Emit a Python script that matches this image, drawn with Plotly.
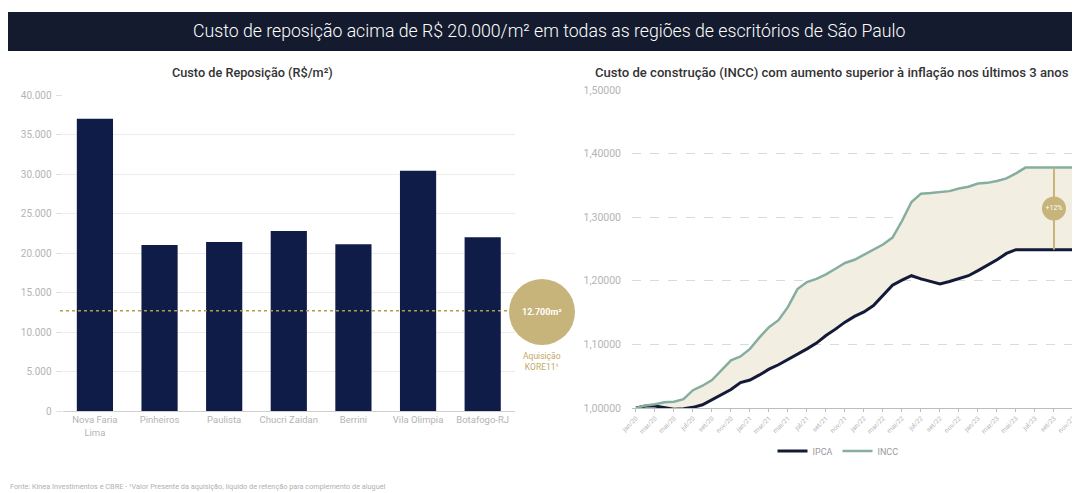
import plotly.graph_objects as go

# ---------------- data ----------------
regions = ["Nova Faria<br>Lima", "Pinheiros", "Paulista", "Chucri Zaidan", "Berrini", "Vila Olimpia", "Botafogo-RJ"]
replacement_cost = [37000, 21000, 21400, 22800, 21100, 30400, 22000]
kore_cost = 12700
left_ticks = [0, 5000, 10000, 15000, 20000, 25000, 30000, 35000, 40000]

month_names = ["jan", "fev", "mar", "abr", "mai", "jun", "jul", "ago", "set", "out", "nov", "dez"]
years = ["20", "21", "22", "23"]
months = [f"{m}/{y}" for y in years for m in month_names]

incc = [1.000, 1.004, 1.006, 1.009, 1.010, 1.014, 1.028, 1.035, 1.044, 1.059, 1.075, 1.081,
        1.093, 1.111, 1.127, 1.138, 1.159, 1.187, 1.198, 1.203, 1.210, 1.219, 1.228, 1.233,
        1.241, 1.248, 1.257, 1.268, 1.294, 1.324, 1.337, 1.338, 1.339, 1.341, 1.345, 1.348,
        1.353, 1.354, 1.357, 1.361, 1.369, 1.378, 1.378, 1.378, 1.378, 1.378, 1.378, 1.378]
ipca = [1.000, 1.003, 1.003, 1.001, 0.998, 0.999, 1.001, 1.005, 1.013, 1.020, 1.029, 1.040,
        1.044, 1.052, 1.061, 1.068, 1.076, 1.084, 1.093, 1.102, 1.114, 1.124, 1.135, 1.144,
        1.151, 1.161, 1.177, 1.193, 1.201, 1.208, 1.203, 1.199, 1.195, 1.199, 1.204, 1.208,
        1.216, 1.224, 1.233, 1.243, 1.249, 1.249, 1.249, 1.249, 1.249, 1.249, 1.249, 1.249]
right_ticks = [1.0, 1.1, 1.2, 1.3, 1.4, 1.5]
gap_index = 44
gap_label = "+12%"

# ---------------- style ----------------
OFF = 8                      # page body margin
W, H = 1080 - OFF, 493 - OFF
NAVY = "#0f1c48"
IPCA_C = "#131a38"
INCC_C = "#86ae9f"
FILL_C = "#f3eee2"
GOLD = "#c6b47a"
GOLD_TXT = "#bfa968"
TICK_C = "#b4b4b4"
FONT = "Roboto"


def px(x):
    return (x - OFF) / W


def py(y):
    return (H - (y - OFF)) / H


fig = go.Figure()

# left bars
fig.add_trace(go.Bar(x=regions, y=replacement_cost, marker=dict(color=NAVY, line=dict(width=0)),
                     xaxis="x", yaxis="y", showlegend=False, hoverinfo="x+y"))

# right: fill between
fig.add_trace(go.Scatter(x=months, y=ipca, mode="lines", line=dict(width=0, color=IPCA_C),
                         xaxis="x2", yaxis="y2", showlegend=False, hoverinfo="skip"))
fig.add_trace(go.Scatter(x=months, y=incc, mode="lines", line=dict(width=0, color=INCC_C),
                         fill="tonexty", fillcolor=FILL_C,
                         xaxis="x2", yaxis="y2", showlegend=False, hoverinfo="skip"))
# lines
fig.add_trace(go.Scatter(x=months, y=ipca, mode="lines", name="IPCA",
                         line=dict(width=3, color=IPCA_C), xaxis="x2", yaxis="y2"))
fig.add_trace(go.Scatter(x=months, y=incc, mode="lines", name="INCC",
                         line=dict(width=2.5, color=INCC_C), xaxis="x2", yaxis="y2"))

# gap marker
fig.add_trace(go.Scatter(x=[months[gap_index], months[gap_index]], y=[ipca[gap_index], incc[gap_index]],
                         mode="lines", line=dict(color=GOLD, width=2), xaxis="x2", yaxis="y2",
                         showlegend=False, hoverinfo="skip"))
fig.add_trace(go.Scatter(x=[months[gap_index]], y=[(ipca[gap_index] + incc[gap_index]) / 2],
                         mode="markers+text", text=[gap_label],
                         textfont=dict(color="white", size=7, family=FONT),
                         marker=dict(size=24, color=GOLD, line=dict(width=0)),
                         xaxis="x2", yaxis="y2", showlegend=False, hoverinfo="skip"))

shapes = []
# title bar
shapes.append(dict(type="rect", xref="paper", yref="paper", x0=px(8), x1=1.0, y0=py(51), y1=py(12),
                   fillcolor="#141b2e", line=dict(width=0), layer="below"))
# kore dotted line
shapes.append(dict(type="line", xref="paper", yref="y", x0=px(60), x1=px(512), y0=kore_cost, y1=kore_cost,
                   line=dict(color="#ab9f4c", width=1.5, dash="dot"), layer="above"))
# kore circle
cx, cy, r = 542, 312, 33
shapes.append(dict(type="circle", xref="paper", yref="paper", x0=px(cx - r), x1=px(cx + r),
                   y0=py(cy + r), y1=py(cy - r), fillcolor=GOLD, line=dict(width=0), layer="above"))

annotations = [
    dict(text="Custo de reposição acima de R$ 20.000/m² em todas as regiões de escritórios de São Paulo",
         x=px(549), y=py(31), xref="paper", yref="paper", showarrow=False,
         font=dict(family=FONT, size=17.7, color="white", weight=300), xanchor="center", yanchor="middle"),
    dict(text="Custo de Reposição (R$/m²)", x=px(252), y=py(73), xref="paper", yref="paper", showarrow=False,
         font=dict(family=FONT, size=12.7, color="#333333", weight=500), xanchor="center", yanchor="middle"),
    dict(text="Custo de construção (INCC) com aumento superior à inflação nos últimos 3 anos",
         x=px(593), y=py(73), xref="paper", yref="paper", showarrow=False,
         font=dict(family=FONT, size=13.1, color="#333333", weight=500), xanchor="left", yanchor="middle"),
    dict(text="<b>12.700m²</b>", x=px(cx), y=py(cy), xref="paper", yref="paper", showarrow=False,
         font=dict(family=FONT, size=9, color="white"), xanchor="center", yanchor="middle"),
    dict(text="Aquisição<br>KORE11¹", x=px(542), y=py(361), xref="paper", yref="paper", showarrow=False,
         font=dict(family=FONT, size=8.5, color=GOLD_TXT), xanchor="center", yanchor="middle"),
    dict(text="Fonte: Kinea Investimentos e CBRE - ¹Valor Presente da aquisição, líquido de retenção para complemento de aluguel",
         x=px(8), y=py(486), xref="paper", yref="paper", showarrow=False,
         font=dict(family=FONT, size=7.3, color="#b0b0b0"), xanchor="left", yanchor="middle"),
]

fig.update_layout(
    width=W, height=H,
    margin=dict(l=0, r=0, t=0, b=0, autoexpand=False),
    paper_bgcolor="white", plot_bgcolor="white",
    separators=",.",
    bargap=0.44,
    font=dict(family=FONT, color=TICK_C),
    shapes=shapes,
    annotations=annotations,
    xaxis=dict(domain=[px(62.6), px(515)], range=[-0.5, 6.5], type="category", automargin=False,
               showline=True, linecolor="#cfcfcf", linewidth=1, ticks="",
               tickfont=dict(size=9.5, color=TICK_C, family=FONT), showgrid=False, fixedrange=True),
    yaxis=dict(domain=[py(411), py(95)], range=[0, 40000], tickvals=left_ticks, tickformat=",d",
               automargin=False,
               showgrid=True, gridcolor="#ececec", gridwidth=1, zeroline=False,
               ticks="outside", ticklen=6, tickcolor="#e0e0e0",
               tickfont=dict(size=10, color=TICK_C, family=FONT), ticklabelstandoff=2),
    xaxis2=dict(domain=[px(632), 1.0], range=[-0.42, 46.74], type="category", automargin=False,
                tickvals=months[::2], ticktext=months[::2], tickangle=-45,
                showline=True, linecolor="#bdbdbd", linewidth=1, ticks="outside", ticklen=3,
                tickcolor="#bdbdbd", tickfont=dict(size=6.5, color=TICK_C, family=FONT),
                showgrid=False, anchor="y2"),
    yaxis2=dict(domain=[py(408), py(90)], range=[1.0, 1.5], tickvals=right_ticks, tickformat=".5f",
                automargin=False,
                showgrid=True, gridcolor="#dadada", griddash="dash", gridwidth=1, zeroline=False,
                tickfont=dict(size=10.5, color=TICK_C, family=FONT), ticklabelstandoff=10,
                anchor="x2"),
    legend=dict(orientation="h", x=px(838), y=py(451), xanchor="center", yanchor="middle",
                traceorder="normal",
                font=dict(size=9, color="#9a9a9a", family=FONT), itemwidth=30,
                bgcolor="rgba(0,0,0,0)"),
)

fig.write_html("out.html")
